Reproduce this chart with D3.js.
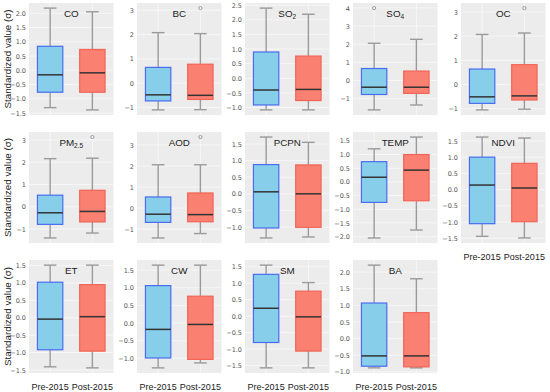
<!DOCTYPE html>
<html>
<head>
<meta charset="utf-8">
<script src="https://cdn.jsdelivr.net/npm/d3@7"></script>
<style>
  body { margin: 0; background: #fff; }
  text { font-family: "Liberation Sans", Arial, sans-serif; }
</style>
</head>
<body>
<div id="chart"></div>
<script>
// panel names (sub = subscript part of the title)
const panels = ["CO", "BC", "SO2", "SO4", "OC", "PM2.5", "AOD", "PCPN", "TEMP", "NDVI", "ET", "CW", "SM", "BA"];
const titleMain = ["CO", "BC", "SO", "SO", "OC", "PM", "AOD", "PCPN", "TEMP", "NDVI", "ET", "CW", "SM", "BA"];
const titleSub = ["", "", "2", "4", "", "2.5", "", "", "", "", "", "", "", ""];
const groups = ["Pre-2015", "Post-2015"];

// [whisker low, q1, median, q3, whisker high]
const preStats = [
    [-1.31, -0.77, -0.16, 0.84, 2.18],
    [-1.10, -0.73, -0.48, 0.65, 2.08],
    [-1.08, -0.91, -0.40, 0.90, 2.40],
    [-1.62, -0.77, -0.37, 0.66, 2.05],
    [-1.05, -0.78, -0.51, 0.64, 2.07],
    [-1.40, -0.79, -0.27, 0.52, 2.16],
    [-1.42, -0.68, -0.29, 0.53, 2.06],
    [-1.33, -1.03, 0.06, 0.88, 1.71],
    [-2.05, -0.75, 0.17, 0.74, 1.21],
    [-1.44, -1.05, 0.14, 1.00, 1.62],
    [-1.41, -0.92, -0.04, 1.02, 1.51],
    [-1.27, -0.99, -0.18, 1.06, 1.64],
    [-1.57, -0.80, 0.24, 1.27, 1.55],
    [-0.88, -0.83, -0.52, 1.07, 2.21]
];
const postStats = [
    [-1.39, -0.77, -0.09, 0.73, 2.05],
    [-1.09, -0.67, -0.50, 0.78, 2.04],
    [-1.08, -0.76, -0.38, 0.76, 2.19],
    [-1.35, -0.71, -0.37, 0.52, 2.27],
    [-1.02, -0.64, -0.47, 0.82, 2.13],
    [-1.18, -0.68, -0.21, 0.74, 2.18],
    [-1.21, -0.65, -0.31, 0.72, 2.06],
    [-1.30, -1.01, 0.00, 0.87, 1.55],
    [-1.76, -0.69, 0.43, 1.00, 1.64],
    [-1.49, -0.99, 0.05, 0.81, 1.59],
    [-1.44, -0.96, 0.03, 0.95, 1.51],
    [-1.13, -1.03, -0.04, 0.76, 1.64],
    [-1.57, -1.06, -0.02, 0.76, 1.02],
    [-0.88, -0.85, -0.52, 0.78, 1.80]
];
const preOutliers = [[], [], [], [3.99], [], [], [], [], [], [], [], [], [], []];
const postOutliers = [[], [3.09], [], [], [3.16], [3.13], [3.38], [], [], [], [], [], [], []];
const tickSteps = [0.5, 1, 0.5, 1, 1, 1, 1, 0.5, 0.5, 0.5, 0.5, 0.5, 0.5, 0.5];

function init() {
    const w = 550, h = 392;
    const colX = [29, 137, 245, 353, 461];
    const panelW = 84.5;
    const rowY = [3, 132, 260];
    const panelH = [112, 111, 113];

    const svg = d3.select("#chart").append("svg")
        .attr("width", w).attr("height", h);

    const boxStyle = [
        { fill: "#87CEEB", stroke: "#4a6cf0" },
        { fill: "#FA8072", stroke: "#f26455" }
    ];

    panels.forEach((name, i) => {
        const row = Math.floor(i / 5), col = i % 5;
        const x0 = colX[col], y0 = rowY[row], ph = panelH[row];

        const series = [preStats[i], postStats[i]];
        const outs = [preOutliers[i], postOutliers[i]];
        const all = series.flat().concat(outs.flat());
        const lo = d3.min(all), hi = d3.max(all);
        const pad = (hi - lo) * 0.05;

        const y = d3.scaleLinear().domain([lo - pad, hi + pad]).range([ph, 0]);
        const x = d3.scaleBand().domain(groups).range([0, panelW]).paddingInner(0.4).paddingOuter(0.2);

        const g = svg.append("g").attr("transform", `translate(${x0},${y0})`);

        g.append("rect").attr("width", panelW).attr("height", ph).attr("fill", "#ececec");

        const step = tickSteps[i];
        const ticks = d3.range(Math.ceil((lo - pad) / step), Math.floor((hi + pad) / step) + 1).map(k => k * step);

        // white grid
        g.selectAll(".hg").data(ticks).enter().append("line")
            .attr("x1", 0).attr("x2", panelW)
            .attr("y1", d => y(d)).attr("y2", d => y(d))
            .attr("stroke", "#fafafa").attr("stroke-width", 0.7);
        g.selectAll(".vg").data(groups).enter().append("line")
            .attr("x1", d => x(d) + x.bandwidth() / 2).attr("x2", d => x(d) + x.bandwidth() / 2)
            .attr("y1", 0).attr("y2", ph)
            .attr("stroke", "#fafafa").attr("stroke-width", 0.7);

        const yAxis = d3.axisLeft(y).tickValues(ticks).tickSize(0).tickPadding(3)
            .tickFormat(step < 1 ? d3.format(".1f") : d3.format("d"));
        const ax = g.append("g").call(yAxis);
        ax.select(".domain").remove();
        ax.selectAll("text").attr("font-size", 6.5).attr("fill", "#555")
            .style("font-family", "'DejaVu Sans', sans-serif");

        series.forEach((s, k) => {
            const gx = x(groups[k]), bw = x.bandwidth(), cx = gx + bw / 2;
            const [wl, q1, md, q3, wh] = s;
            // whiskers
            [[wl, q1], [q3, wh]].forEach(([a, b]) => {
                g.append("line").attr("x1", cx).attr("x2", cx)
                    .attr("y1", y(a)).attr("y2", y(b))
                    .attr("stroke", "#9a9a9a").attr("stroke-width", 1.4);
            });
            [wl, wh].forEach(v => {
                g.append("line").attr("x1", cx - bw / 4).attr("x2", cx + bw / 4)
                    .attr("y1", y(v)).attr("y2", y(v))
                    .attr("stroke", "#9a9a9a").attr("stroke-width", 1.4);
            });
            // box
            g.append("rect")
                .attr("x", gx).attr("width", bw)
                .attr("y", y(q3)).attr("height", y(q1) - y(q3))
                .attr("fill", boxStyle[k].fill)
                .attr("stroke", boxStyle[k].stroke).attr("stroke-width", 1.2);
            // median
            g.append("line").attr("x1", gx).attr("x2", gx + bw)
                .attr("y1", y(md)).attr("y2", y(md))
                .attr("stroke", "#333").attr("stroke-width", 1.5);
            // outliers
            g.selectAll(null).data(outs[k]).enter().append("circle")
                .attr("cx", cx).attr("cy", d => y(d)).attr("r", 1.6)
                .attr("fill", "none").attr("stroke", "#888").attr("stroke-width", 0.8);
        });

        // panel title
        const t = g.append("text")
            .attr("x", panelW / 2).attr("y", 13.5)
            .attr("text-anchor", "middle")
            .attr("font-size", 9.8).attr("fill", "#222");
        t.append("tspan").text(titleMain[i]);
        if (titleSub[i]) {
            t.append("tspan").attr("font-size", 6.5).attr("dy", 2.5).text(titleSub[i]);
        }

        // y label on first column
        if (col === 0) {
            svg.append("text")
                .attr("transform", `translate(11,${y0 + ph / 2}) rotate(-90)`)
                .attr("text-anchor", "middle")
                .attr("font-size", 9.8).attr("fill", "#222")
                .text("Standardized value (σ)");
        }

        // x labels under bottom panels
        if (row === 2 || i === 9) {
            groups.forEach(gr => {
                svg.append("text")
                    .attr("x", x0 + x(gr) + x.bandwidth() / 2)
                    .attr("y", y0 + ph + 16.5)
                    .attr("text-anchor", "middle")
                    .attr("font-size", 9).attr("fill", "#222")
                    .text(gr);
            });
        }
    });
}

window.onload = init;
</script>
</body>
</html>
